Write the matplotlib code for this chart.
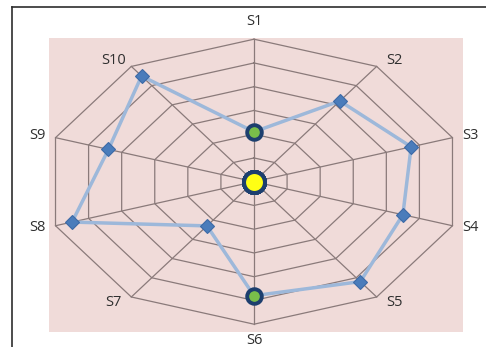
import numpy as np
import matplotlib
matplotlib.use("Agg")
import matplotlib.pyplot as plt

# ---- data -------------------------------------------------------------
categories = ["S1", "S2", "S3", "S4", "S5", "S6", "S7", "S8", "S9", "S10"]
scores = [2.1, 4.2, 4.75, 4.5, 5.2, 4.8, 2.3, 5.5, 4.4, 5.5]
baseline = [0, 0, 0, 0, 0, 0, 0, 0, 0, 0]
highlighted = ["S1", "S6"]
ring_max = 6

# ---- styling ----------------------------------------------------------
PLOT_BG = "#f0dbd9"
GRID = "#8a7a7a"
LINE = "#9db8da"
DIAMOND = "#4a7cbb"
NAVY = "#1d3f6e"
LABEL = "#2f2f2f"
FONT = "Open Sans"

n = len(categories)
theta = 2 * np.pi * np.arange(n) / n
sin_t, cos_t = np.sin(theta), np.cos(theta)


def to_xy(values):
    v = np.asarray(values, dtype=float)
    return v * sin_t, v * cos_t


W, H = 486, 347
fig = plt.figure(figsize=(W / 100, H / 100), dpi=100)
fig.patch.set_facecolor("white")

# plot area (pink panel), centre of the web at pixel (254, 182)
left_px, right_px, top_px, bottom_px = 49, 463, 38, 332
cx, cy = 254, 181.7
sx, sy = 208.7 / ring_max, 142.5 / ring_max
ax = fig.add_axes([left_px / W, 1 - bottom_px / H,
                   (right_px - left_px) / W, (bottom_px - top_px) / H])
ax.set_facecolor(PLOT_BG)
ax.set_xlim((left_px - cx) / sx, (right_px - cx) / sx)
ax.set_ylim((cy - bottom_px) / sy, (cy - top_px) / sy)
ax.set_aspect("auto")
for s in ax.spines.values():
    s.set_visible(False)
ax.set_xticks([])
ax.set_yticks([])

# decagon rings and spokes
for k in range(1, ring_max + 1):
    gx, gy = to_xy([k] * n)
    ax.plot(np.append(gx, gx[0]), np.append(gy, gy[0]), color=GRID,
            lw=0.9, zorder=1, clip_on=False)
ox, oy = to_xy([ring_max] * n)
for i in range(n):
    ax.plot([0, ox[i]], [0, oy[i]], color=GRID, lw=0.9, zorder=1, clip_on=False)

# main series
px, py = to_xy(scores)
ax.plot(np.append(px, px[0]), np.append(py, py[0]), color=LINE, lw=2.5,
        zorder=3, solid_joinstyle="round")
ax.plot(px, py, ls="none", marker="D", ms=7, mfc=DIAMOND, mec="#3d6aa6",
        mew=0.8, zorder=4)

# highlighted points
idx = [categories.index(c) for c in highlighted]
ax.plot(px[idx], py[idx], ls="none", marker="o", ms=10.5, mfc="#79be4a",
        mec=NAVY, mew=2.8, zorder=5)

# baseline series (all zero) at the centre
bx, by = to_xy(baseline)
ax.plot(bx, by, ls="none", marker="o", ms=15, mfc="#ffff14", mec=NAVY,
        mew=2.8, zorder=6)

# category labels outside the outer ring
for i, name in enumerate(categories):
    s, c = sin_t[i], cos_t[i]
    if abs(s) < 1e-9:
        dx = 0.0
        dy = 18.0 if c > 0 else -16.0
    else:
        dx = 18.0 * np.sign(s)
        dy = 7.0 * c
    ax.annotate(name, (ox[i], oy[i]), xytext=(dx, dy),
                textcoords="offset pixels", ha="center", va="center",
                fontsize=10.5, color=LABEL, family=FONT,
                annotation_clip=False)

# frame lines at top and left of the figure
fig.add_artist(plt.Line2D([12 / W, 1], [1 - 7 / H, 1 - 7 / H],
                          transform=fig.transFigure, color="#2e2e2e", lw=1.2))
fig.add_artist(plt.Line2D([12 / W, 12 / W], [0, 1 - 7 / H],
                          transform=fig.transFigure, color="#2e2e2e", lw=1.2))

fig.savefig("out.png", dpi=100, facecolor="white")
